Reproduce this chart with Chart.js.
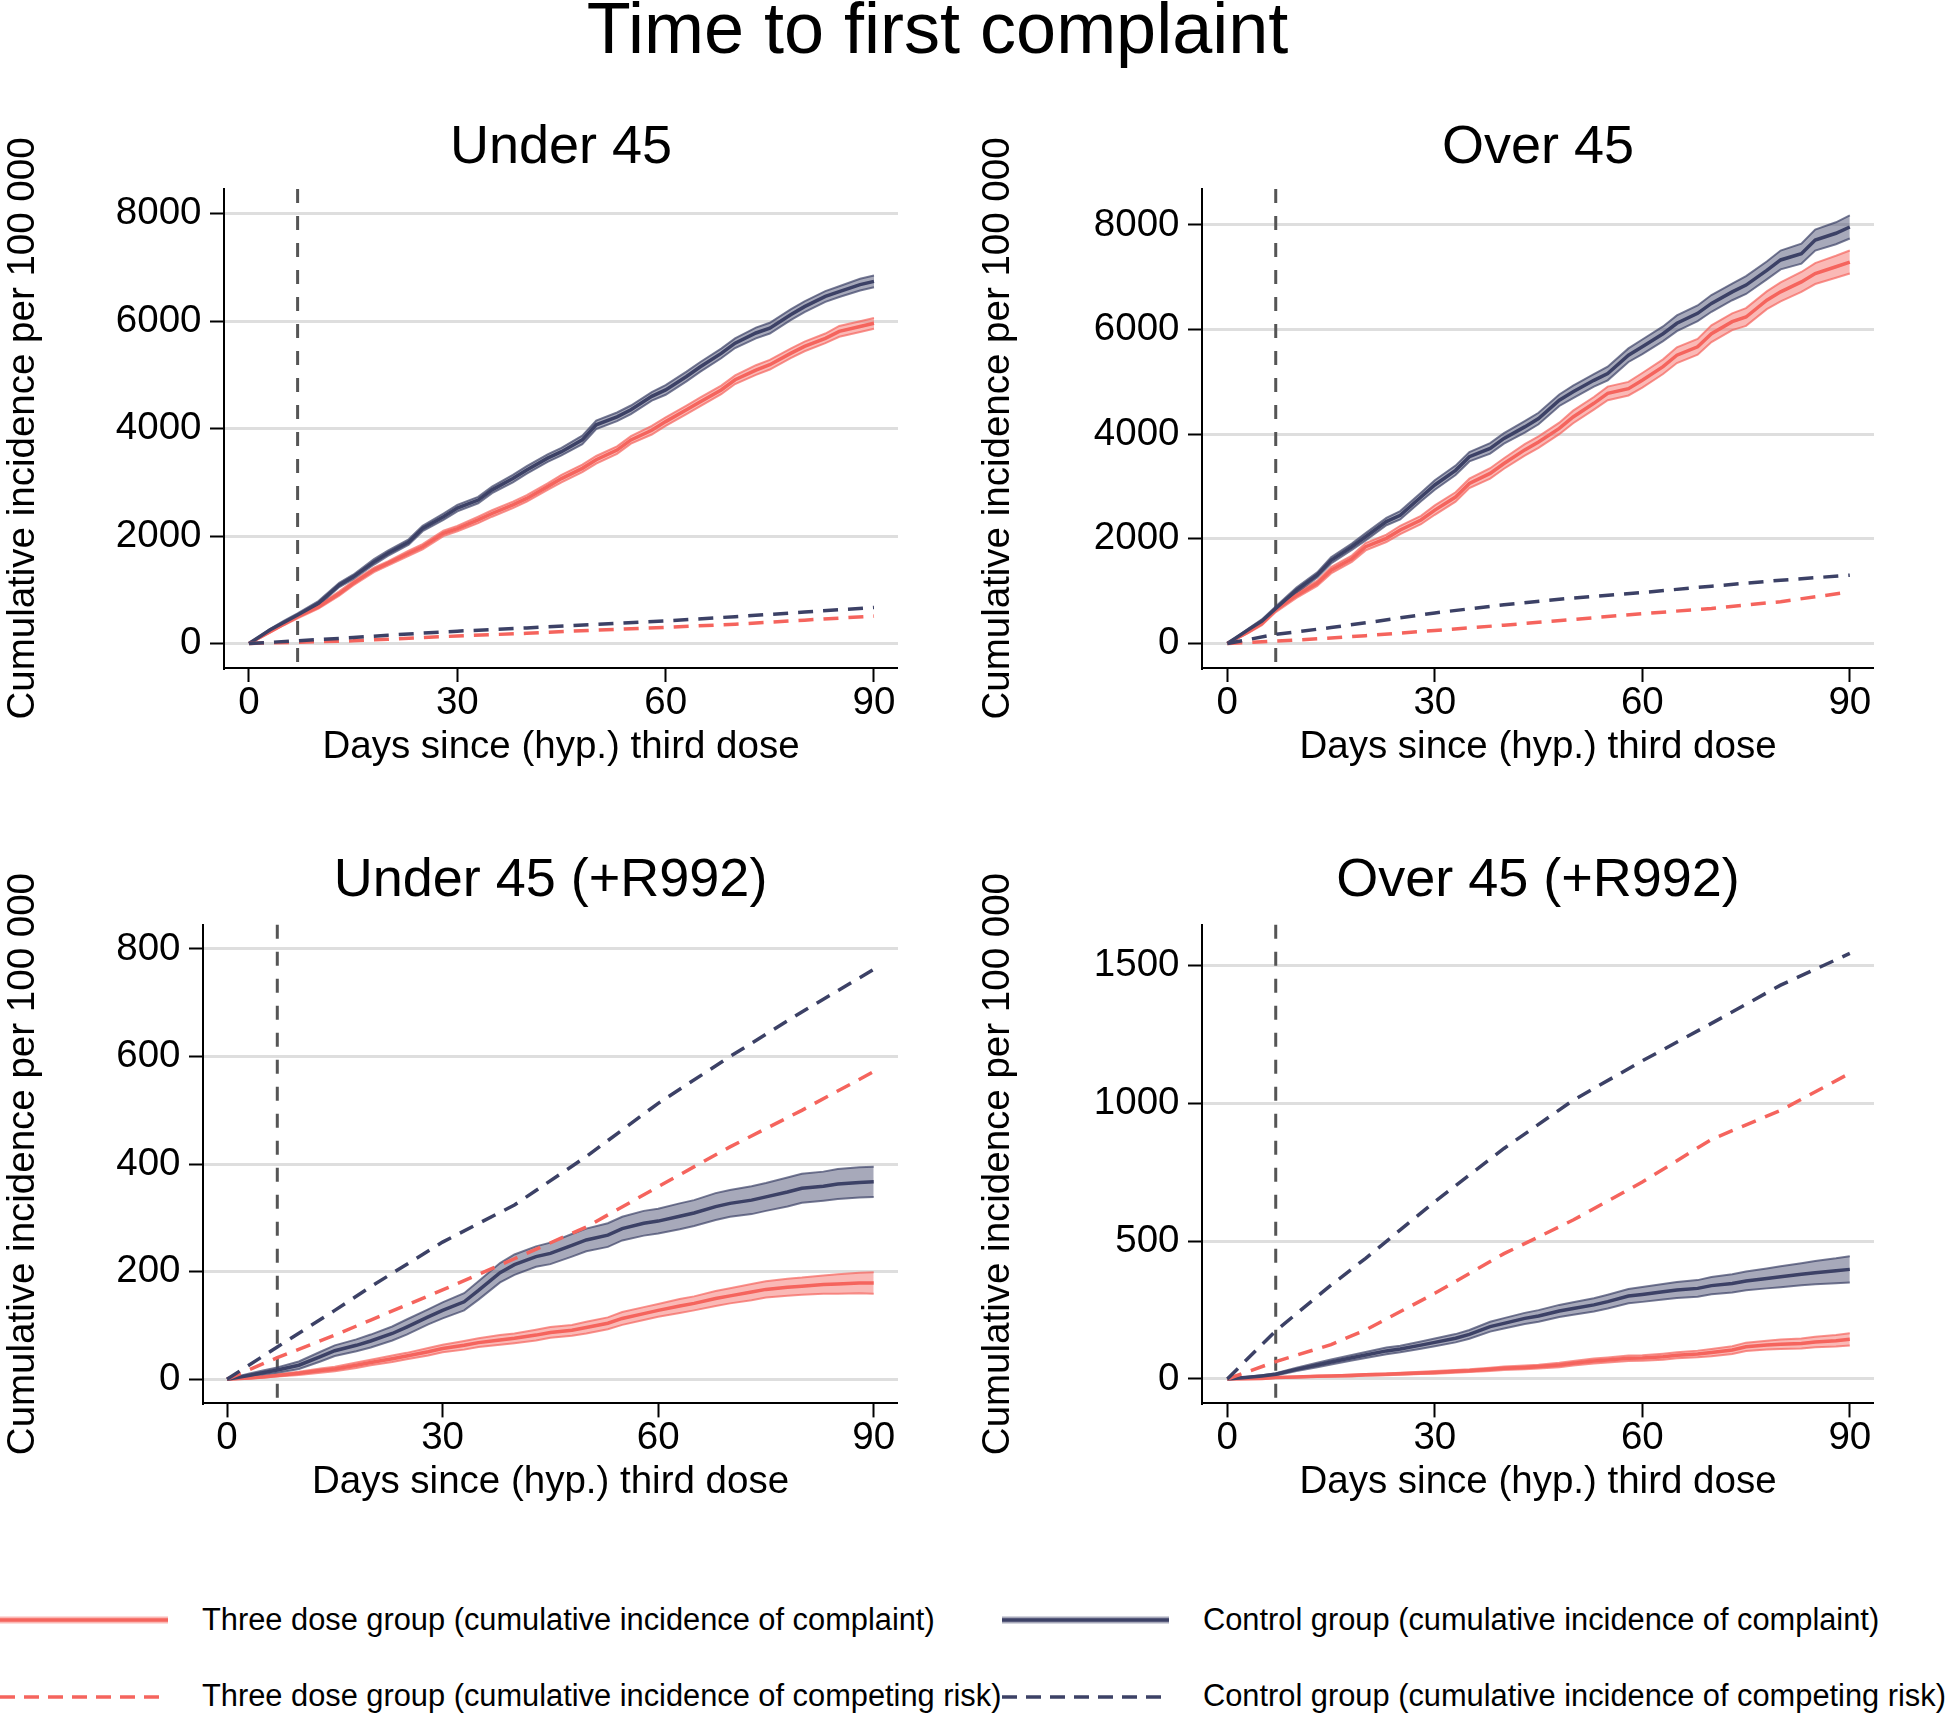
<!DOCTYPE html>
<html>
<head>
<meta charset="utf-8">
<script src="https://cdn.jsdelivr.net/npm/chart.js@4.4.1/dist/chart.umd.min.js"></script>
<style>
body { margin: 0; background: #fff; width: 1946px; height: 1714px; position: relative; overflow: hidden; font-family: "Liberation Sans", Arial, sans-serif; }
canvas { position: absolute; }
#title { position: absolute; left: 0; width: 1875px; top: -8px; text-align: center; font-size: 72px; line-height: 72px; color: #000; }
.leg { position: absolute; font-size: 30.8px; line-height: 30px; white-space: nowrap; color: #000; }
svg { position: absolute; }
</style>
</head>
<body>
<div id="title">Time to first complaint</div>

<canvas id="c1" width="898" height="710" style="left:0;top:80px"></canvas>
<canvas id="c2" width="901" height="710" style="left:973px;top:80px"></canvas>
<canvas id="c3" width="898" height="710" style="left:0;top:815px"></canvas>
<canvas id="c4" width="901" height="710" style="left:973px;top:815px"></canvas>

<!-- legend -->
<svg style="left:0;top:1610px" width="168" height="20"><line x1="0" y1="10" x2="168" y2="10" stroke="rgba(245,100,93,0.45)" stroke-width="7"/><line x1="0" y1="10" x2="168" y2="10" stroke="#f5645d" stroke-width="3.5"/></svg>
<div class="leg" style="left:202px;top:1605px">Three dose group (cumulative incidence of complaint)</div>
<svg style="left:1002px;top:1610px" width="167" height="20"><line x1="0" y1="10" x2="167" y2="10" stroke="rgba(60,65,102,0.45)" stroke-width="7"/><line x1="0" y1="10" x2="167" y2="10" stroke="#3c4166" stroke-width="3.5"/></svg>
<div class="leg" style="left:1203px;top:1605px">Control group (cumulative incidence of complaint)</div>
<svg style="left:0;top:1687px" width="168" height="20"><line x1="0" y1="10" x2="168" y2="10" stroke="#f5645d" stroke-width="3.5" stroke-dasharray="15 9"/></svg>
<div class="leg" style="left:202px;top:1681px">Three dose group (cumulative incidence of competing risk)</div>
<svg style="left:1002px;top:1687px" width="167" height="20"><line x1="0" y1="10" x2="167" y2="10" stroke="#3c4166" stroke-width="3.5" stroke-dasharray="15 9"/></svg>
<div class="leg" style="left:1203px;top:1681px">Control group (cumulative incidence of competing risk)</div>

<script>
const days = [0,3,5,7,10,13,15,18,20,23,25,28,30,33,35,38,40,43,45,48,50,53,55,58,60,63,65,68,70,73,75,78,80,83,85,88,90];
// competing risk curves read at fewer days (they are almost straight)
const crDays = [0,7,15,20,30,40,50,60,70,80,90];
const xTicks = [0,30,60,90];
const refDay = 7;

// Under 45
const u45Three   = [0,220,360,500,680,930,1120,1370,1490,1680,1800,2050,2140,2300,2420,2580,2700,2920,3070,3260,3420,3600,3790,3970,4130,4350,4500,4720,4910,5090,5190,5400,5530,5680,5810,5900,5960];
const u45ThreeLo = [0,200,340,470,650,890,1080,1330,1450,1630,1750,2000,2090,2240,2360,2520,2640,2860,3000,3190,3350,3530,3720,3890,4050,4270,4420,4640,4830,5000,5100,5310,5440,5590,5710,5800,5860];
const u45ThreeHi = [0,240,380,530,710,970,1160,1410,1530,1730,1850,2100,2190,2360,2480,2640,2760,2980,3140,3330,3490,3670,3860,4050,4210,4430,4580,4800,4990,5180,5280,5490,5620,5770,5910,6000,6060];
const u45Ctrl    = [0,250,390,530,750,1090,1240,1520,1680,1890,2140,2360,2520,2670,2860,3070,3230,3450,3570,3790,4070,4220,4350,4600,4720,4970,5150,5400,5590,5780,5870,6120,6270,6460,6550,6680,6740];
const u45CtrlLo  = [0,230,360,500,710,1050,1200,1470,1630,1840,2090,2300,2460,2610,2800,3000,3160,3380,3500,3710,3990,4140,4270,4520,4630,4880,5060,5310,5500,5680,5770,6020,6170,6360,6450,6570,6630];
const u45CtrlHi  = [0,270,420,560,790,1130,1280,1570,1730,1940,2190,2420,2580,2730,2920,3140,3300,3520,3640,3870,4150,4300,4430,4680,4810,5060,5240,5490,5680,5880,5970,6220,6370,6560,6650,6790,6850];
const u45ThreeCr = [0,25,50,80,140,190,250,300,360,435,510];
const u45CtrlCr  = [0,50,110,155,230,290,355,420,500,585,670];
const u45YTicks  = [0,2000,4000,6000,8000];

// Over 45
const o45Three   = [0,220,380,640,920,1150,1400,1620,1850,2010,2170,2360,2550,2800,3060,3250,3440,3700,3850,4110,4330,4590,4780,4870,5030,5290,5510,5670,5920,6150,6240,6560,6720,6910,7070,7200,7290];
const o45ThreeLo = [0,200,350,600,870,1100,1340,1560,1780,1940,2090,2280,2460,2710,2970,3150,3340,3590,3740,4000,4210,4470,4650,4740,4890,5150,5360,5520,5760,5990,6070,6390,6540,6720,6870,6990,7070];
const o45ThreeHi = [0,240,410,680,970,1200,1460,1680,1920,2080,2250,2440,2640,2890,3150,3350,3540,3810,3960,4220,4450,4710,4910,5000,5170,5430,5660,5820,6080,6310,6410,6730,6900,7100,7270,7410,7510];
const o45Ctrl    = [0,260,430,670,1020,1310,1590,1850,2040,2330,2450,2800,3030,3310,3570,3730,3920,4140,4300,4650,4810,5030,5160,5510,5670,5920,6120,6310,6500,6720,6850,7130,7330,7450,7710,7840,7960];
const o45CtrlLo  = [0,240,400,630,970,1260,1530,1790,1970,2260,2370,2720,2940,3220,3480,3630,3820,4030,4190,4540,4690,4910,5030,5380,5530,5780,5970,6160,6340,6560,6680,6960,7150,7260,7510,7630,7740];
const o45CtrlHi  = [0,280,460,710,1070,1360,1650,1910,2110,2400,2530,2880,3120,3400,3660,3830,4020,4250,4410,4760,4930,5150,5290,5640,5810,6060,6270,6460,6660,6880,7020,7300,7510,7640,7910,8050,8180];
const o45ThreeCr = [0,45,105,150,250,350,460,570,670,800,985];
const o45CtrlCr  = [0,175,305,395,585,740,870,975,1095,1210,1305];
const o45YTicks  = [0,2000,4000,6000,8000];

// Under 45 (+R992)
const u45rThree   = [0,2,4,7,11,16,19,26,31,38,43,51,57,63,68,73,76,82,87,91,96,104,113,122,128,136,141,150,155,162,167,171,173,176,177,179,179];
const u45rThreeLo = [0,1,3,5,8,12,15,21,26,32,37,44,50,55,60,64,67,72,77,81,85,93,101,110,116,123,128,136,141,147,152,155,157,159,159,160,159];
const u45rThreeHi = [0,3,5,9,14,20,23,31,36,44,49,58,64,71,76,82,85,92,97,101,107,115,125,134,140,149,154,164,169,177,182,187,189,193,195,198,199];
const u45rCtrl    = [0,7,12,17,26,42,53,63,71,85,97,116,128,144,165,198,213,228,234,249,259,268,280,290,294,303,309,321,327,333,339,348,355,359,363,366,367];
const u45rCtrlLo  = [0,4,8,12,19,33,43,52,59,72,83,102,113,128,148,180,194,209,214,228,238,246,258,267,271,279,285,296,302,307,313,321,328,332,335,338,339];
const u45rCtrlHi  = [0,10,16,22,33,51,63,74,83,98,111,130,143,160,182,216,232,247,254,270,280,290,302,313,317,327,333,346,352,359,365,375,382,386,391,394,395];
const u45rThreeCr = [0,40,82,110,166,224,283,358,432,500,572];
const u45rCtrlCr  = [0,60,128,172,255,324,414,513,600,683,762];
const u45rYTicks  = [0,200,400,600,800];

// Over 45 (+R992)
const o45rThree   = [0,1,2,5,7,10,11,13,15,17,19,22,24,28,30,35,39,42,45,51,57,65,69,75,76,81,86,91,96,105,117,123,126,129,134,139,144];
const o45rThreeLo = [0,0,1,4,5,8,9,10,12,14,15,18,19,23,25,29,33,35,38,43,49,56,60,65,66,70,75,79,83,91,102,107,109,111,115,118,122];
const o45rThreeHi = [0,2,3,6,9,12,13,16,18,20,23,26,29,33,35,41,45,49,52,59,65,74,78,85,86,92,97,103,109,119,132,139,143,147,153,160,166];
const o45rCtrl    = [0,6,11,17,35,51,62,77,87,102,109,123,133,148,162,190,202,220,229,247,256,269,281,301,307,317,323,329,339,347,356,365,371,380,386,393,398];
const o45rCtrlLo  = [0,4,8,13,29,43,53,67,76,90,97,110,119,133,146,172,183,200,208,225,233,245,256,275,280,289,294,299,308,314,322,329,333,340,344,348,350];
const o45rCtrlHi  = [0,8,14,21,41,59,71,87,98,114,121,136,147,163,178,208,221,240,250,269,279,293,306,327,334,345,352,359,370,380,390,401,409,420,428,438,446];
const o45rThreeCr = [0,63,125,178,311,455,577,715,870,975,1110];
const o45rCtrlCr  = [0,175,341,438,644,837,1012,1155,1291,1430,1545];
const o45rYTicks  = [0,500,1000,1500];

const red = '#f5645d', redEdge = 'rgba(245,100,93,0.7)', redBand = 'rgba(245,100,93,0.45)';
const navy = '#3c4166', navyEdge = 'rgba(60,65,102,0.7)', navyBand = 'rgba(60,65,102,0.45)';

Chart.defaults.font.family = '"Liberation Sans", Arial, sans-serif';
Chart.defaults.color = '#000';

// dashed vertical line at day 7
const refLine = {
    id: 'refLine',
    beforeDatasetsDraw(chart) {
        const {ctx, chartArea, scales} = chart;
        const x = scales.x.getPixelForValue(refDay);
        ctx.save();
        ctx.strokeStyle = '#555';
        ctx.lineWidth = 3;
        ctx.setLineDash([14, 13]);
        ctx.beginPath();
        ctx.moveTo(x, chartArea.top);
        ctx.lineTo(x, chartArea.bottom);
        ctx.stroke();
        ctx.restore();
    }
};

function pts(xs, ys) {
    return xs.map((x, i) => ({x: x, y: ys[i]}));
}

function makePanel(p) {
    const line = {pointRadius: 0, tension: 0};
    new Chart(document.getElementById(p.id), {
        type: 'line',
        data: {
            datasets: [
                {...line, data: pts(days, p.threeHi), borderColor: redEdge, borderWidth: 2, backgroundColor: redBand, fill: '+1', order: 6},
                {...line, data: pts(days, p.threeLo), borderColor: redEdge, borderWidth: 2, fill: false, order: 6},
                {...line, data: pts(days, p.ctrlHi), borderColor: navyEdge, borderWidth: 2, backgroundColor: navyBand, fill: '+1', order: 5},
                {...line, data: pts(days, p.ctrlLo), borderColor: navyEdge, borderWidth: 2, fill: false, order: 5},
                {...line, data: pts(days, p.three), borderColor: red, borderWidth: 3.5, fill: false, order: 4},
                {...line, data: pts(days, p.ctrl), borderColor: navy, borderWidth: 3.5, fill: false, order: 3},
                {...line, data: pts(crDays, p.threeCr), borderColor: red, borderWidth: 3.5, borderDash: [15, 10], fill: false, order: 2},
                {...line, data: pts(crDays, p.ctrlCr), borderColor: navy, borderWidth: 3.5, borderDash: [15, 10], fill: false, order: 1}
            ]
        },
        options: {
            responsive: false,
            animation: false,
            layout: {padding: 0},
            plugins: {
                legend: {display: false},
                tooltip: {enabled: false},
                title: {
                    display: true,
                    text: p.title,
                    fullSize: false,
                    color: '#000',
                    font: {size: 54, weight: 'normal'},
                    padding: {top: p.titlePad[0], bottom: p.titlePad[1]}
                }
            },
            scales: {
                x: {
                    type: 'linear',
                    min: p.xMin,
                    max: p.xMax,
                    afterBuildTicks: s => { s.ticks = xTicks.map(v => ({value: v})); },
                    afterFit: s => { s.height = p.xAxisH; },
                    ticks: {font: {size: 38.5, lineHeight: 1}, padding: 2, autoSkip: false, maxRotation: 0},
                    grid: {drawOnChartArea: false, tickLength: 14, tickColor: '#000', tickWidth: 2},
                    border: {color: '#000', width: 2},
                    title: {display: true, text: 'Days since (hyp.) third dose', font: {size: 38.5}, padding: {top: 0, bottom: 20}}
                },
                y: {
                    min: p.yMin,
                    max: p.yMax,
                    afterBuildTicks: s => { s.ticks = p.yTicks.map(v => ({value: v})); },
                    afterFit: s => { s.width = p.yAxisW; },
                    ticks: {font: {size: 38.5}, padding: 8.5, callback: v => String(v)},
                    grid: {color: '#dedede', lineWidth: 3, tickLength: 14, tickColor: '#000', tickWidth: 2},
                    border: {color: '#000', width: 2},
                    title: {display: true, text: 'Cumulative incidence per 100 000', font: {size: 38.5}, padding: {top: p.yTitlePad, bottom: 0}}
                }
            }
        },
        plugins: [refLine]
    });
}

makePanel({id: 'c1', title: 'Under 45', yTicks: u45YTicks, yMin: -456, yMax: 8460, xMin: -3.6, xMax: 93.46,
    yAxisW: 224, xAxisH: 122, titlePad: [35.6, 8.6], yTitlePad: 0,
    three: u45Three, threeLo: u45ThreeLo, threeHi: u45ThreeHi, ctrl: u45Ctrl, ctrlLo: u45CtrlLo, ctrlHi: u45CtrlHi,
    threeCr: u45ThreeCr, ctrlCr: u45CtrlCr});

makePanel({id: 'c2', title: 'Over 45', yTicks: o45YTicks, yMin: -468, yMax: 8686, xMin: -3.66, xMax: 93.5,
    yAxisW: 229, xAxisH: 122, titlePad: [35.6, 8.6], yTitlePad: 2,
    three: o45Three, threeLo: o45ThreeLo, threeHi: o45ThreeHi, ctrl: o45Ctrl, ctrlLo: o45CtrlLo, ctrlHi: o45CtrlHi,
    threeCr: o45ThreeCr, ctrlCr: o45CtrlCr});

makePanel({id: 'c3', title: 'Under 45 (+R992)', yTicks: u45rYTicks, yMin: -45, yMax: 845, xMin: -3.34, xMax: 93.38,
    yAxisW: 203, xAxisH: 121.6, titlePad: [34.2, 10.8], yTitlePad: 0,
    three: u45rThree, threeLo: u45rThreeLo, threeHi: u45rThreeHi, ctrl: u45rCtrl, ctrlLo: u45rCtrlLo, ctrlHi: u45rCtrlHi,
    threeCr: u45rThreeCr, ctrlCr: u45rCtrlCr});

makePanel({id: 'c4', title: 'Over 45 (+R992)', yTicks: o45rYTicks, yMin: -88.6, yMax: 1649, xMin: -3.66, xMax: 93.5,
    yAxisW: 229, xAxisH: 121.6, titlePad: [34.2, 10.8], yTitlePad: 2,
    three: o45rThree, threeLo: o45rThreeLo, threeHi: o45rThreeHi, ctrl: o45rCtrl, ctrlLo: o45rCtrlLo, ctrlHi: o45rCtrlHi,
    threeCr: o45rThreeCr, ctrlCr: o45rCtrlCr});
</script>
</body>
</html>
